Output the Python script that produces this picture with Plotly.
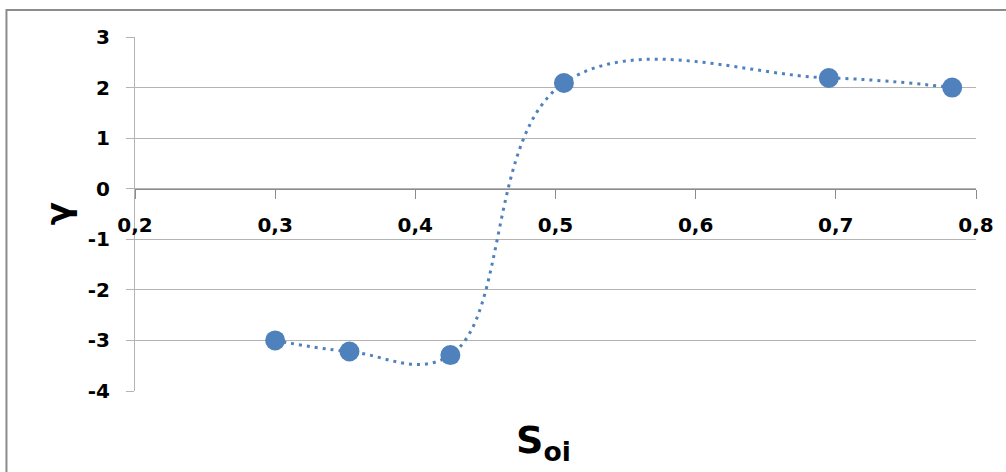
import plotly.graph_objects as go

# Data
s_oi = [0.300, 0.353, 0.425, 0.506, 0.695, 0.783]
gamma = [-3.00, -3.22, -3.29, 2.09, 2.19, 2.00]

x_ticks = [0.2, 0.3, 0.4, 0.5, 0.6, 0.7, 0.8]
x_tick_labels = ["0,2", "0,3", "0,4", "0,5", "0,6", "0,7", "0,8"]
y_ticks = [-4, -3, -2, -1, 0, 1, 2, 3]
y_tick_labels = ["-4", "-3", "-2", "-1", "0", "1", "2", "3"]

BLUE = "#4F81BD"
GRID = "#b4b4b4"
AXIS = "#8c8c8c"
FONT = "DejaVu Sans"

W, H = 1006, 472
L, R, T, B = 135, 979, 37, 391

fig = go.Figure()
fig.add_trace(go.Scatter(
    x=s_oi, y=gamma, mode="lines+markers",
    line=dict(color=BLUE, width=3, dash="3px,5px", shape="spline", smoothing=1.15),
    marker=dict(color=BLUE, size=20, line=dict(width=0)),
    showlegend=False, cliponaxis=False,
))

def px_x(p):
    return (p - L) / (R - L)

def px_y(p):
    return (B - p) / (B - T)

fig.update_layout(
    width=W, height=H,
    margin=dict(l=L, r=W - R, t=T, b=H - B, pad=0),
    paper_bgcolor="white", plot_bgcolor="white",
    separators=", ",
    xaxis=dict(
        range=[0.2, 0.8], tickvals=x_ticks, ticktext=x_tick_labels,
        anchor="free", position=4 / 7,
        showgrid=False, zeroline=False,
        showline=True, linecolor=AXIS, linewidth=1,
        ticks="outside", ticklen=9, tickcolor=AXIS, tickwidth=1,
        tickfont=dict(family=FONT, size=20, color="black", weight="bold"),
        ticklabelstandoff=9,
    ),
    yaxis=dict(
        range=[-4, 3], tickvals=y_ticks, ticktext=y_tick_labels,
        showgrid=True, gridcolor=GRID, gridwidth=1, zeroline=False,
        showline=True, linecolor=GRID, linewidth=1,
        ticks="outside", ticklen=8, tickcolor=GRID, tickwidth=1,
        tickfont=dict(family=FONT, size=20, color="black", weight="bold"),
        ticklabelstandoff=12,
    ),
    shapes=[dict(
        type="rect", xref="paper", yref="paper",
        x0=px_x(6), x1=px_x(1030), y0=px_y(500), y1=px_y(10),
        line=dict(color=AXIS, width=2), fillcolor="rgba(0,0,0,0)", layer="below",
    )],
    annotations=[
        dict(text="S<sub>oi</sub>", xref="paper", yref="paper",
             x=px_x(545), y=px_y(442), xanchor="center", yanchor="middle",
             showarrow=False,
             font=dict(family=FONT, size=38, color="black", weight="bold")),
        dict(text="γ", xref="paper", yref="paper",
             x=px_x(58), y=px_y(214), xanchor="center", yanchor="middle",
             textangle=-90, showarrow=False,
             font=dict(family=FONT, size=34, color="black", weight="bold")),
    ],
)

fig.write_html("out.html",
               config={"displayModeBar": False},
               post_script="document.body.style.margin='0';document.body.style.overflow='hidden';")
